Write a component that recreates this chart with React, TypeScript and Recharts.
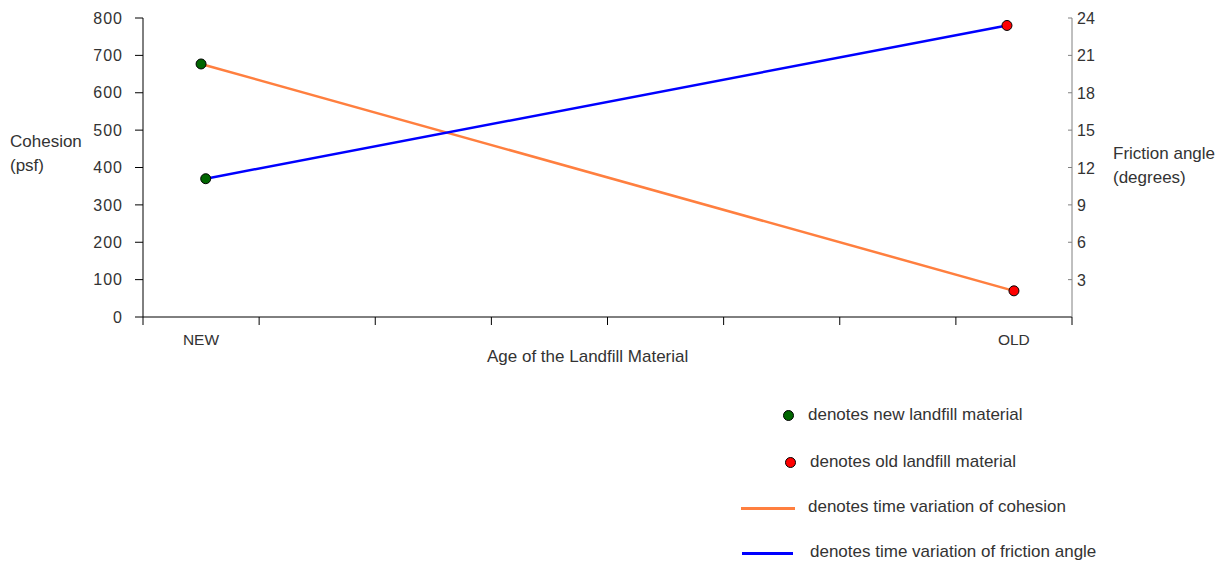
import React from 'react';
import { LineChart, Line, XAxis, YAxis } from 'recharts';

// x positions are band indexes (8 bands, NEW in the first, OLD in the last)
const bandEdges = [0, 1, 2, 3, 4, 5, 6, 7, 8];
const bandLabels = ['NEW', '', '', '', '', '', '', 'OLD'];
const ageLabels = ['NEW', 'OLD'];

const cohesionX = [0.5, 7.5];
const cohesionPsf = [677, 70];
const frictionX = [0.54, 7.44];
const frictionDeg = [11.1, 23.4];

const cohesionTicks = [0, 100, 200, 300, 400, 500, 600, 700, 800];
const frictionTicks = [3, 6, 9, 12, 15, 18, 21, 24];

const cohesionData = cohesionX.map((x, i) => ({ x, age: ageLabels[i], cohesion: cohesionPsf[i] }));
const frictionData = frictionX.map((x, i) => ({ x, age: ageLabels[i], friction: frictionDeg[i] }));

const FONT = '"Liberation Sans", Arial, sans-serif';
const TEXT = '#333';
const ORANGE = '#ff7f3f';
const BLUE = '#0000ff';
const GREEN = '#006600';
const RED = '#ff0000';

const AgeDot = (props: any) => {
  const { cx, cy, payload } = props;
  if (cx == null || cy == null) return null;
  return (
    <circle
      key={`${payload.age}-${cx}`}
      cx={cx}
      cy={cy}
      r={5}
      fill={payload.age === 'NEW' ? GREEN : RED}
      stroke="#000"
      strokeWidth={1}
    />
  );
};

const BandTick = (props: any) => {
  const { x, y, payload } = props;
  const label = bandLabels[payload.value];
  if (!label) return null;
  return (
    <text x={x + 58} y={y + 18} textAnchor="middle" fontSize={15.5} fill={TEXT} fontFamily={FONT}>
      {label}
    </text>
  );
};

const RightTick = (props: any) => {
  const { x, y, payload } = props;
  return (
    <g>
      <line x1={x - 4} y1={y} x2={x} y2={y} stroke="#808080" />
      <text x={x + 5} y={y + 6} fontSize={16} fill={TEXT} fontFamily={FONT}>
        {payload.value}
      </text>
    </g>
  );
};

const abs = (left: number, top: number): React.CSSProperties => ({
  position: 'absolute',
  left,
  top,
  fontFamily: FONT,
  fontSize: 17,
  color: TEXT,
  whiteSpace: 'nowrap',
  lineHeight: '24px',
});

export default function App() {
  return (
    <div style={{ position: 'absolute', left: 0, top: 0, width: 1230, height: 565, background: '#fff' }}>
      <LineChart width={1230} height={565} margin={{ top: 18, right: 0, left: 0, bottom: 0 }}>
        <XAxis
          xAxisId="age"
          dataKey="x"
          type="number"
          domain={[0, 8]}
          ticks={bandEdges}
          interval={0}
          height={248}
          stroke="#000"
          tickSize={8}
          tick={<BandTick />}
        />
        <YAxis
          yAxisId="left"
          domain={[0, 800]}
          ticks={cohesionTicks}
          width={143}
          stroke="#000"
          tickSize={8}
          tickMargin={12}
          tick={{ fontSize: 16, fill: TEXT, fontFamily: FONT, letterSpacing: 1 }}
        />
        <YAxis
          yAxisId="right"
          orientation="right"
          domain={[0, 24]}
          ticks={frictionTicks}
          width={158}
          stroke="#808080"
          tickSize={0}
          tickMargin={0}
          tickLine={false}
          tick={<RightTick />}
        />
        <Line
          xAxisId="age"
          yAxisId="left"
          data={cohesionData}
          dataKey="cohesion"
          type="linear"
          stroke={ORANGE}
          strokeWidth={2.5}
          dot={<AgeDot />}
          isAnimationActive={false}
        />
        <Line
          xAxisId="age"
          yAxisId="right"
          data={frictionData}
          dataKey="friction"
          type="linear"
          stroke={BLUE}
          strokeWidth={2.5}
          dot={<AgeDot />}
          isAnimationActive={false}
        />
      </LineChart>

      <div style={abs(10, 130)}>Cohesion<br />(psf)</div>
      <div style={abs(1113, 142)}>Friction angle<br />(degrees)</div>
      <div style={abs(487, 345)}>Age of the Landfill Material</div>

      <div style={{ position: 'absolute', left: 783, top: 410, width: 11, height: 11, borderRadius: 6, background: GREEN, border: '1px solid #000', boxSizing: 'border-box' }} />
      <div style={abs(808, 403)}>denotes new landfill material</div>
      <div style={{ position: 'absolute', left: 785, top: 457, width: 11, height: 11, borderRadius: 6, background: RED, border: '1px solid #000', boxSizing: 'border-box' }} />
      <div style={abs(810, 450)}>denotes old landfill material</div>
      <div style={{ position: 'absolute', left: 741, top: 507, width: 54, height: 3, background: ORANGE }} />
      <div style={abs(808, 495)}>denotes time variation of cohesion</div>
      <div style={{ position: 'absolute', left: 742, top: 552, width: 51, height: 3, background: BLUE }} />
      <div style={abs(810, 540)}>denotes time variation of friction angle</div>
    </div>
  );
}
